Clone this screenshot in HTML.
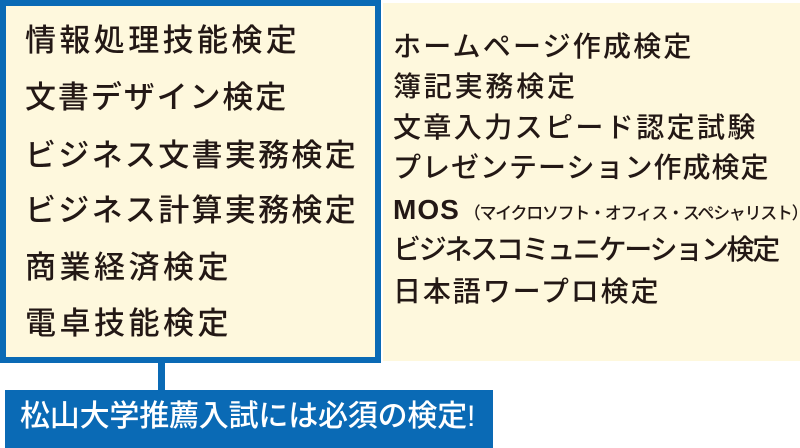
<!DOCTYPE html>
<html><head><meta charset="utf-8"><style>
body{margin:0;width:800px;height:448px;background:#fff;position:relative;overflow:hidden;font-family:"Liberation Sans","Noto Sans CJK JP",sans-serif;color:#231815}
.a{position:absolute;white-space:nowrap;font-weight:500}
.l{font-size:31px;line-height:31px;left:25px}
.r{font-size:28px;line-height:28px;left:393px}
</style></head><body>
<div style="position:absolute;left:383px;top:3px;width:417px;height:358px;background:#fef8dd"></div>
<div style="position:absolute;left:0;top:0;width:369px;height:351px;border:6px solid #0a6ab5;background:#fef8dd"></div>
<div style="position:absolute;left:158px;top:363px;width:7px;height:28px;background:#0a6ab5"></div>
<div style="position:absolute;left:5px;top:390px;width:488px;height:58px;background:#0a6ab5"></div>
<div class="a l" style="top:25px;letter-spacing:3.4px">情報処理技能検定</div>
<div class="a l" style="top:82px;letter-spacing:1.9px">文書デザイン検定</div>
<div class="a l" style="top:140px;letter-spacing:2.3px">ビジネス文書実務検定</div>
<div class="a l" style="top:195px;letter-spacing:2.3px">ビジネス計算実務検定</div>
<div class="a l" style="top:252px;letter-spacing:3.5px">商業経済検定</div>
<div class="a l" style="top:308px;letter-spacing:3.5px">電卓技能検定</div>
<div class="a r" style="top:33px;letter-spacing:2.2px">ホームページ作成検定</div>
<div class="a r" style="top:73px;letter-spacing:2.8px">簿記実務検定</div>
<div class="a r" style="top:114px;letter-spacing:2.4px">文章入力スピード認定試験</div>
<div class="a r" style="top:154px;letter-spacing:1px">プレゼンテーション作成検定</div>
<div class="a r" style="top:196px"><span style="font-weight:bold;letter-spacing:1px">MOS</span><span style="font-size:17px;letter-spacing:-1.3px;margin-left:4px">（マイクロソフト・オフィス・スペシャリスト）</span></div>
<div class="a r" style="top:236px;letter-spacing:-2.3px">ビジネスコミュニケーション検定</div>
<div class="a r" style="top:278px;letter-spacing:1.9px">日本語ワープロ検定</div>
<div class="a" style="left:20px;top:402px;font-size:30px;line-height:30px;color:#fff;letter-spacing:-0.2px">松山大学推薦入試には必須の検定!</div>
</body></html>
